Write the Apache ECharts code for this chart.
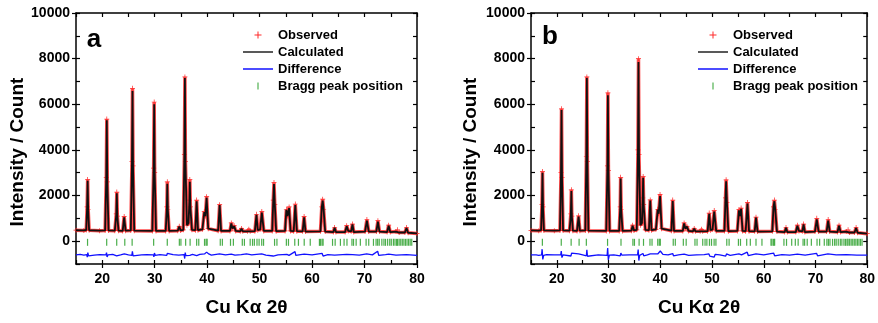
<!DOCTYPE html>
<html>
<head>
<meta charset="utf-8">
<script src="https://cdn.jsdelivr.net/npm/echarts@6/dist/echarts.min.js"></script>
<style>
  html, body { margin: 0; padding: 0; background: #fff; }
  #chart { width: 878px; height: 323px; }
</style>
</head>
<body>
<div id="chart"></div>
<script>
// tick labels
const xMajor = [20, 30, 40, 50, 60, 70, 80];
const yMajor = [0, 2000, 4000, 6000, 8000, 10000];

// panel a: [2theta, observed, calculated]
const profileA = [
  [15.0, 480, 480], [16.5, 470, 470], [16.95, 490, 490], [17.12, 1500, 1450], [17.22, 2700, 2650], [17.32, 1400, 1350], [17.5, 480, 480],
  [19.5, 460, 460], [20.55, 470, 470], [20.77, 2800, 2750], [20.87, 5350, 5300], [20.97, 2600, 2550], [21.2, 470, 470],
  [22.4, 460, 460], [22.68, 1200, 1150], [22.78, 2150, 2100], [22.88, 1100, 1080], [23.1, 460, 460],
  [23.9, 450, 450], [24.18, 1080, 1050], [24.45, 460, 460],
  [25.45, 470, 470], [25.67, 3500, 3450], [25.77, 6700, 6580], [25.87, 3300, 3250], [26.1, 460, 460],
  [29.55, 450, 450], [29.8, 3200, 3150], [29.9, 6100, 6000], [30.0, 3000, 2950], [30.25, 450, 450],
  [32.1, 450, 450], [32.32, 1500, 1450], [32.4, 2600, 2520], [32.5, 1400, 1380], [32.75, 450, 450],
  [34.4, 460, 460], [34.68, 650, 640], [34.95, 470, 470],
  [35.45, 500, 500], [35.66, 3800, 3750], [35.76, 7200, 7150], [35.86, 3500, 3450], [36.15, 700, 700],
  [36.45, 800, 800], [36.62, 1800, 1750], [36.7, 2700, 2600], [36.8, 1500, 1480], [37.1, 500, 500],
  [37.75, 480, 480], [38.0, 1800, 1750], [38.25, 480, 480],
  [39.1, 520, 520], [39.45, 1300, 1280], [39.65, 1100, 1100], [39.9, 1950, 1900], [40.2, 550, 550],
  [42.1, 460, 460], [42.38, 1600, 1580], [42.65, 450, 450],
  [44.35, 450, 450], [44.6, 800, 780], [44.85, 550, 550], [45.15, 680, 660], [45.45, 450, 450],
  [46.3, 430, 430], [46.55, 560, 550], [46.8, 430, 430], [47.7, 430, 430], [47.95, 520, 510], [48.2, 430, 430],
  [49.1, 440, 440], [49.4, 1180, 1150], [49.65, 480, 480], [50.1, 520, 520], [50.42, 1300, 1250], [50.8, 450, 450],
  [52.4, 450, 450], [52.6, 1800, 1750], [52.74, 2570, 2500], [52.9, 1600, 1580], [53.15, 440, 440],
  [54.85, 450, 450], [55.1, 1400, 1370], [55.3, 1100, 1100], [55.62, 1500, 1450], [55.9, 450, 450],
  [56.5, 440, 440], [56.8, 1630, 1580], [57.1, 440, 440],
  [58.2, 430, 430], [58.48, 1080, 1050], [58.75, 420, 420],
  [61.6, 430, 430], [61.85, 1500, 1480], [62.02, 1840, 1780], [62.2, 1400, 1380], [62.5, 420, 420],
  [64.05, 400, 400], [64.3, 600, 590], [64.55, 400, 400],
  [66.3, 400, 400], [66.6, 680, 660], [66.9, 450, 450], [67.45, 430, 430], [67.7, 750, 730], [67.95, 400, 400],
  [70.1, 420, 420], [70.45, 950, 900], [70.8, 420, 420],
  [72.25, 420, 420], [72.55, 900, 860], [72.85, 420, 420],
  [74.3, 400, 400], [74.6, 700, 680], [74.9, 400, 400],
  [76.0, 420, 420], [76.3, 500, 490], [76.6, 380, 380],
  [77.7, 380, 380], [78.0, 600, 580], [78.3, 370, 370], [80.0, 340, 340]
];

// panel b: [2theta, observed, calculated]
const profileB = [
  [15.0, 470, 470], [16.5, 460, 460], [16.95, 480, 480], [17.12, 1600, 1550], [17.22, 3050, 3000], [17.32, 1500, 1450], [17.5, 470, 470],
  [19.5, 460, 460], [20.6, 470, 470], [20.8, 3000, 2950], [20.9, 5800, 5750], [21.0, 2800, 2750], [21.2, 470, 470],
  [22.45, 460, 460], [22.7, 1200, 1150], [22.8, 2250, 2200], [22.9, 1100, 1080], [23.1, 460, 460],
  [23.9, 450, 450], [24.2, 1110, 1080], [24.45, 460, 460],
  [25.5, 470, 470], [25.7, 3700, 3650], [25.8, 7200, 7150], [25.9, 3500, 3450], [26.1, 460, 460],
  [29.55, 450, 450], [29.78, 3300, 3250], [29.87, 6500, 6400], [29.97, 3100, 3050], [30.2, 450, 450],
  [32.05, 450, 450], [32.25, 1500, 1450], [32.33, 2800, 2750], [32.43, 1400, 1380], [32.7, 450, 450],
  [34.4, 460, 460], [34.65, 700, 680], [34.9, 470, 470],
  [35.45, 500, 500], [35.68, 4000, 3950], [35.78, 8000, 7850], [35.88, 3800, 3750], [36.15, 700, 700],
  [36.45, 800, 800], [36.6, 1900, 1850], [36.68, 2830, 2780], [36.78, 1600, 1580], [37.1, 500, 500],
  [37.8, 480, 480], [38.05, 1810, 1780], [38.3, 480, 480],
  [39.15, 520, 520], [39.5, 1400, 1380], [39.68, 1200, 1200], [39.95, 2050, 1980], [40.25, 550, 550],
  [42.15, 460, 460], [42.4, 1800, 1760], [42.65, 450, 450],
  [44.35, 450, 450], [44.6, 800, 780], [44.85, 550, 550], [45.15, 650, 640], [45.45, 450, 450],
  [46.3, 430, 430], [46.55, 560, 550], [46.8, 430, 430], [47.7, 430, 430], [47.95, 520, 510], [48.2, 430, 430],
  [49.15, 440, 440], [49.45, 1230, 1200], [49.7, 480, 480], [50.1, 520, 520], [50.42, 1340, 1300], [50.8, 450, 450],
  [52.4, 450, 450], [52.6, 1900, 1850], [52.72, 2690, 2620], [52.88, 1700, 1680], [53.15, 440, 440],
  [54.9, 450, 450], [55.2, 1380, 1350], [55.38, 1100, 1100], [55.62, 1450, 1420], [55.9, 450, 450],
  [56.5, 440, 440], [56.85, 1700, 1650], [57.15, 440, 440],
  [58.25, 430, 430], [58.5, 1050, 1030], [58.8, 420, 420],
  [61.65, 430, 430], [61.88, 1500, 1480], [62.05, 1800, 1750], [62.22, 1400, 1380], [62.55, 420, 420],
  [64.05, 400, 400], [64.3, 600, 590], [64.55, 400, 400],
  [66.2, 400, 400], [66.5, 700, 680], [66.8, 450, 450], [67.45, 430, 430], [67.7, 750, 730], [67.95, 400, 400],
  [69.9, 420, 420], [70.25, 1000, 950], [70.6, 420, 420],
  [72.15, 420, 420], [72.45, 950, 900], [72.75, 420, 420],
  [74.25, 400, 400], [74.55, 700, 680], [74.85, 400, 400],
  [75.95, 420, 420], [76.3, 500, 490], [76.6, 380, 380],
  [77.55, 380, 380], [77.85, 600, 580], [78.15, 370, 370], [80.0, 330, 330]
];

// difference curves (observed - calculated, shifted)
const diffA = [
  [15, -600], [15.8, -580], [16.5, -610], [17.05, -590], [17.15, -700], [17.25, -500], [17.4, -640], [17.7, -590],
  [18.5, -610], [19.5, -590], [20.7, -600], [20.82, -500], [20.92, -690], [21.1, -600], [22, -580], [22.75, -640],
  [22.85, -560], [23.5, -600], [24.2, -560], [25, -600], [25.65, -620], [25.75, -440], [25.88, -640], [26.2, -590],
  [27.5, -600], [28.5, -590], [29.75, -600], [29.85, -690], [29.95, -520], [30.1, -620], [31, -590], [32.3, -620],
  [32.42, -530], [32.6, -600], [33.5, -590], [34.6, -610], [35.6, -590], [35.72, -760], [35.82, -500], [35.95, -630],
  [36.3, -560], [36.7, -620], [37.2, -580], [38, -630], [38.6, -580], [39.5, -560], [39.9, -480], [40.3, -560],
  [40.8, -610], [42.35, -560], [42.5, -630], [43.5, -600], [44.6, -570], [45.3, -610], [46.5, -590], [47.5, -560],
  [48.5, -600], [49.4, -580], [50.4, -560], [51.2, -610], [52.6, -650], [52.8, -570], [53.5, -600], [55.2, -580],
  [55.6, -620], [56.75, -460], [56.9, -620], [57.8, -590], [58.5, -570], [60, -600], [61.9, -530], [62.1, -650],
  [63, -590], [64.3, -610], [66.6, -580], [67.7, -590], [69, -610], [70.4, -560], [71.5, -600], [72.5, -440],
  [72.7, -620], [74, -590], [74.6, -570], [76, -610], [78, -590], [80, -620]
];
const diffB = [
  [15, -600], [16, -600], [16.5, -620], [17.05, -600], [17.15, -350], [17.28, -800], [17.45, -620], [18, -590],
  [19.5, -600], [20.75, -600], [20.85, -430], [20.98, -720], [21.2, -600], [22.72, -650], [22.85, -520], [23.2, -600],
  [24.2, -560], [25.0, -600], [25.7, -640], [25.8, -380], [25.92, -660], [26.3, -600], [28, -600], [29.72, -620],
  [29.82, -300], [29.95, -820], [30.15, -610], [31, -600], [32.25, -640], [32.37, -520], [32.55, -610], [34, -600],
  [35.6, -600], [35.72, -370], [35.85, -850], [36, -620], [36.65, -540], [36.8, -640], [37.5, -600], [38.05, -560],
  [38.2, -630], [39.5, -560], [40.0, -430], [40.5, -580], [41.5, -600], [42.4, -540], [42.55, -640], [43.5, -600],
  [44.6, -570], [45.5, -620], [47, -600], [48.5, -590], [49.4, -560], [49.55, -650], [50.4, -700], [50.6, -580],
  [51.5, -600], [52.65, -650], [52.8, -560], [53.5, -620], [55.2, -560], [55.7, -600], [56.8, -480], [57, -630],
  [58.5, -560], [60, -600], [61.9, -520], [62.1, -640], [63.5, -590], [65, -610], [66.5, -570], [68, -610],
  [70.2, -530], [70.4, -640], [72.4, -560], [74, -600], [76, -590], [78, -610], [80, -610]
];

// Bragg reflection positions (2theta)
const braggPos = [
  17.2, 20.85, 22.76, 24.3, 25.7, 29.8, 32.4, 34.7, 35.0, 35.9, 36.75, 38.0, 38.4, 39.5, 39.8, 40.0, 42.5, 42.9,
  44.45, 45.0, 46.7, 47.1, 48.2, 48.65, 49.0, 49.5, 49.9, 50.4, 50.75, 52.85, 53.3, 55.1, 55.5, 56.7, 57.4, 58.5,
  59.65, 61.4, 61.6, 61.9, 62.1, 63.9, 64.4, 65.4, 66.1, 66.65, 67.6, 67.9, 68.4, 69.2, 70.3, 70.8, 71.7, 72.2,
  72.5, 72.8, 73.3, 73.7, 74.0, 74.4, 74.8, 75.1, 75.5, 75.8, 76.1, 76.3, 76.6, 76.9, 77.2, 77.5, 77.8, 78.1,
  78.4, 78.7, 79.0
];

const FONT = '"Liberation Sans", Arial, sans-serif';
const PLUS = 'path://M3,0h1v3h3v1h-3v3h-1v-3h-3v-1h3z';
const BAR = 'path://M0,0h1v6h-1z';
const LINE = 'path://M0,0h40v2h-40z';
const frame = { color: '#000', width: 1.5 };
const tickStyle = { color: '#000', width: 1.2 };
const labelStyle = { color: '#000', fontSize: 14, fontWeight: 'bold', fontFamily: FONT, formatter: v => String(v) };

function xAxes(g) {
  const base = { gridIndex: g, type: 'value', min: 15, max: 80, interval: 5, splitLine: { show: false } };
  return [
    Object.assign({}, base, {
      position: 'bottom',
      axisLine: { onZero: false, lineStyle: frame },
      axisTick: { customValues: xMajor, length: 4, lineStyle: tickStyle },
      axisLabel: Object.assign({ customValues: xMajor, margin: 8 }, labelStyle),
      name: 'Cu K\u03b1 2\u03b8', nameLocation: 'middle', nameGap: 34,
      nameTextStyle: { color: '#000', fontSize: 19, fontWeight: 'bold', fontFamily: FONT }
    }),
    Object.assign({}, base, {
      position: 'bottom',
      axisLine: { show: false, onZero: false },
      axisTick: { inside: true, length: 4, lineStyle: tickStyle },
      axisLabel: { show: false }
    }),
    Object.assign({}, base, {
      position: 'top',
      axisLine: { onZero: false, lineStyle: frame },
      axisTick: { inside: true, length: 4, lineStyle: tickStyle },
      axisLabel: { show: false }
    })
  ];
}

function yAxes(g) {
  const base = { gridIndex: g, type: 'value', min: -1000, max: 10000, interval: 1000, splitLine: { show: false } };
  return [
    Object.assign({}, base, {
      position: 'left',
      axisLine: { onZero: false, lineStyle: frame },
      axisTick: { customValues: yMajor, length: 4, lineStyle: tickStyle },
      axisLabel: Object.assign({ customValues: yMajor, margin: 6 }, labelStyle)
    }),
    Object.assign({}, base, {
      position: 'left',
      axisLine: { show: false, onZero: false },
      axisTick: { inside: true, length: 4, lineStyle: tickStyle },
      axisLabel: { show: false }
    }),
    Object.assign({}, base, {
      position: 'right',
      axisLine: { onZero: false, lineStyle: frame },
      axisTick: { inside: true, length: 4, lineStyle: tickStyle },
      axisLabel: { show: false }
    })
  ];
}

function panelSeries(g, profile, diff) {
  const ax = { xAxisIndex: 3 * g, yAxisIndex: 3 * g };
  return [
    Object.assign({
      name: 'Observed', type: 'line', z: 2,
      data: profile.map(p => [p[0], p[1]]),
      symbol: PLUS, symbolSize: 5, showSymbol: true,
      itemStyle: { color: '#ff2a2a' },
      lineStyle: { color: 'rgba(255,30,30,0.8)', width: 3.5 }
    }, ax),
    Object.assign({
      name: 'Calculated', type: 'line', z: 3,
      data: profile.map(p => [p[0], p[2]]),
      symbol: 'none',
      itemStyle: { color: '#111' },
      lineStyle: { color: '#111', width: 1.8 }
    }, ax),
    Object.assign({
      name: 'Difference', type: 'line', z: 3,
      data: diff,
      symbol: 'none',
      itemStyle: { color: '#1010ff' },
      lineStyle: { color: '#1010ff', width: 1.3 }
    }, ax),
    Object.assign({
      name: 'Bragg peak position', type: 'scatter', z: 3,
      data: braggPos.map(x => [x, -50]),
      symbol: 'rect', symbolSize: [1.2, 7],
      itemStyle: { color: '#1e9a1e' }
    }, ax)
  ];
}

function legendAt(left) {
  return {
    orient: 'vertical', left: left, top: 28, padding: 0,
    itemWidth: 30, itemHeight: 7, itemGap: 3,
    selectedMode: false,
    textStyle: { color: '#000', fontSize: 13, fontWeight: 'bold', fontFamily: FONT, lineHeight: 14 },
    data: [
      { name: 'Observed', icon: PLUS },
      { name: 'Calculated', icon: LINE, itemStyle: { color: '#222' } },
      { name: 'Difference', icon: LINE, itemStyle: { color: '#1010ff' } },
      { name: 'Bragg peak position', icon: BAR }
    ]
  };
}

const titleFont = 'bold 19px ' + FONT;
const letterFont = 'bold 26px ' + FONT;

const chart = echarts.init(document.getElementById('chart'));
chart.setOption({
  animation: false,
  backgroundColor: '#fff',
  grid: [
    { left: 76, top: 13, width: 341, height: 251 },
    { left: 531, top: 13, width: 341, height: 251 }
  ],
  xAxis: xAxes(0).concat(xAxes(1)),
  yAxis: yAxes(0).concat(yAxes(1)),
  legend: [legendAt(243), legendAt(698)],
  graphic: [
    { type: 'text', x: 18, y: 152, rotation: Math.PI / 2,
      style: { text: 'Intensity / Count', font: titleFont, fill: '#000', align: 'center', verticalAlign: 'middle' } },
    { type: 'text', x: 471, y: 152, rotation: Math.PI / 2,
      style: { text: 'Intensity / Count', font: titleFont, fill: '#000', align: 'center', verticalAlign: 'middle' } },
    { type: 'text', x: 94, y: 40,
      style: { text: 'a', font: letterFont, fill: '#000', align: 'center', verticalAlign: 'middle' } },
    { type: 'text', x: 550, y: 37,
      style: { text: 'b', font: letterFont, fill: '#000', align: 'center', verticalAlign: 'middle' } }
  ],
  series: panelSeries(0, profileA, diffA).concat(panelSeries(1, profileB, diffB))
});
</script>
</body>
</html>
